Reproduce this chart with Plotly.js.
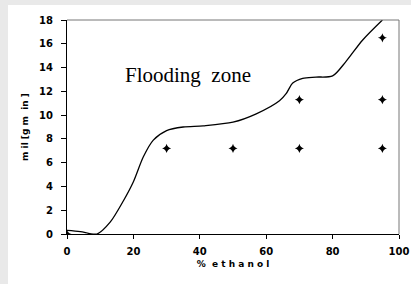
<!DOCTYPE html>
<html><head><meta charset="utf-8">
<script src="https://cdn.plot.ly/plotly-3.0.1.min.js"></script>
<style>
html,body{margin:0;padding:0;background:#e9e9e9;width:411px;height:284px;overflow:hidden;}
#chart{position:absolute;left:8px;top:5px;width:403px;height:279px;background:#fff;}
</style></head><body>
<div id="chart"></div>
<script>
// Boundary curve (flooding line)
const curveX = [0, 4, 9, 13, 17, 20, 23, 26, 30, 35, 41, 50, 57, 64, 66, 68, 71, 75, 80, 84, 89, 95];
const curveY = [0.3, 0.2, 0, 1.0, 2.8, 4.4, 6.5, 7.9, 8.7, 9.0, 9.1, 9.4, 10.1, 11.2, 11.8, 12.7, 13.1, 13.2, 13.3, 14.5, 16.3, 18];
// Measured operating points
const pointX = [0, 30, 50, 70, 95, 70, 95, 95];
const pointY = [0, 7.2, 7.2, 7.2, 7.2, 11.3, 11.3, 16.5];
const xTicks = [0, 20, 40, 60, 80, 100];
const yTicks = [0, 2, 4, 6, 8, 10, 12, 14, 16, 18];

const tickFont = {family: 'DejaVu Sans', size: 10, color: '#000', weight: 700};
const data = [
  {x: curveX, y: curveY, type: 'scatter', mode: 'lines',
   line: {color: '#000', width: 1.3, shape: 'spline', smoothing: 0.8}, hoverinfo: 'skip'},
  {x: pointX, y: pointY, type: 'scatter', mode: 'markers',
   marker: {symbol: 'star-diamond', size: 6.5, color: '#000'}}
];
const layout = {
  width: 403, height: 279,
  margin: {l: 59, r: 12, t: 15, b: 50},
  paper_bgcolor: '#fff', plot_bgcolor: '#fff',
  showlegend: false,
  xaxis: {range: [0, 100], tickvals: xTicks, ticktext: xTicks.map(String),
    showgrid: false, zeroline: false, showline: true, linecolor: '#000', linewidth: 1,
    ticks: 'outside', ticklen: 4, tickcolor: '#000', tickfont: tickFont, ticklabelstandoff: 4,
    title: {text: '%&nbsp;&nbsp;e t h a n o l', font: {family: 'DejaVu Sans', size: 9, color: '#000', weight: 700}, standoff: 4}},
  yaxis: {range: [0, 18], tickvals: yTicks, ticktext: yTicks.map(String),
    showgrid: false, zeroline: false, showline: true, linecolor: '#000', linewidth: 1,
    ticks: 'outside', ticklen: 5, tickcolor: '#000', tickfont: tickFont, ticklabelstandoff: 6,
    title: {text: 'm il [g m  in ]', font: {family: 'DejaVu Sans', size: 9, color: '#000', weight: 700}, standoff: 8}},
  shapes: [
    {type: 'line', xref: 'paper', yref: 'paper', x0: 0, x1: 1, y0: 1, y1: 1, line: {color: '#777', width: 1}},
    {type: 'line', xref: 'paper', yref: 'paper', x0: 1, x1: 1, y0: 0, y1: 1, line: {color: '#777', width: 1}}
  ],
  annotations: [
    {x: 36.5, y: 13.4, xref: 'x', yref: 'y', text: 'Flooding&nbsp;&nbsp;zone', showarrow: false,
     font: {family: 'Liberation Serif', size: 21, color: '#000'}}
  ]
};
Plotly.newPlot('chart', data, layout, {displayModeBar: false, staticPlot: true});
</script>
</body></html>
